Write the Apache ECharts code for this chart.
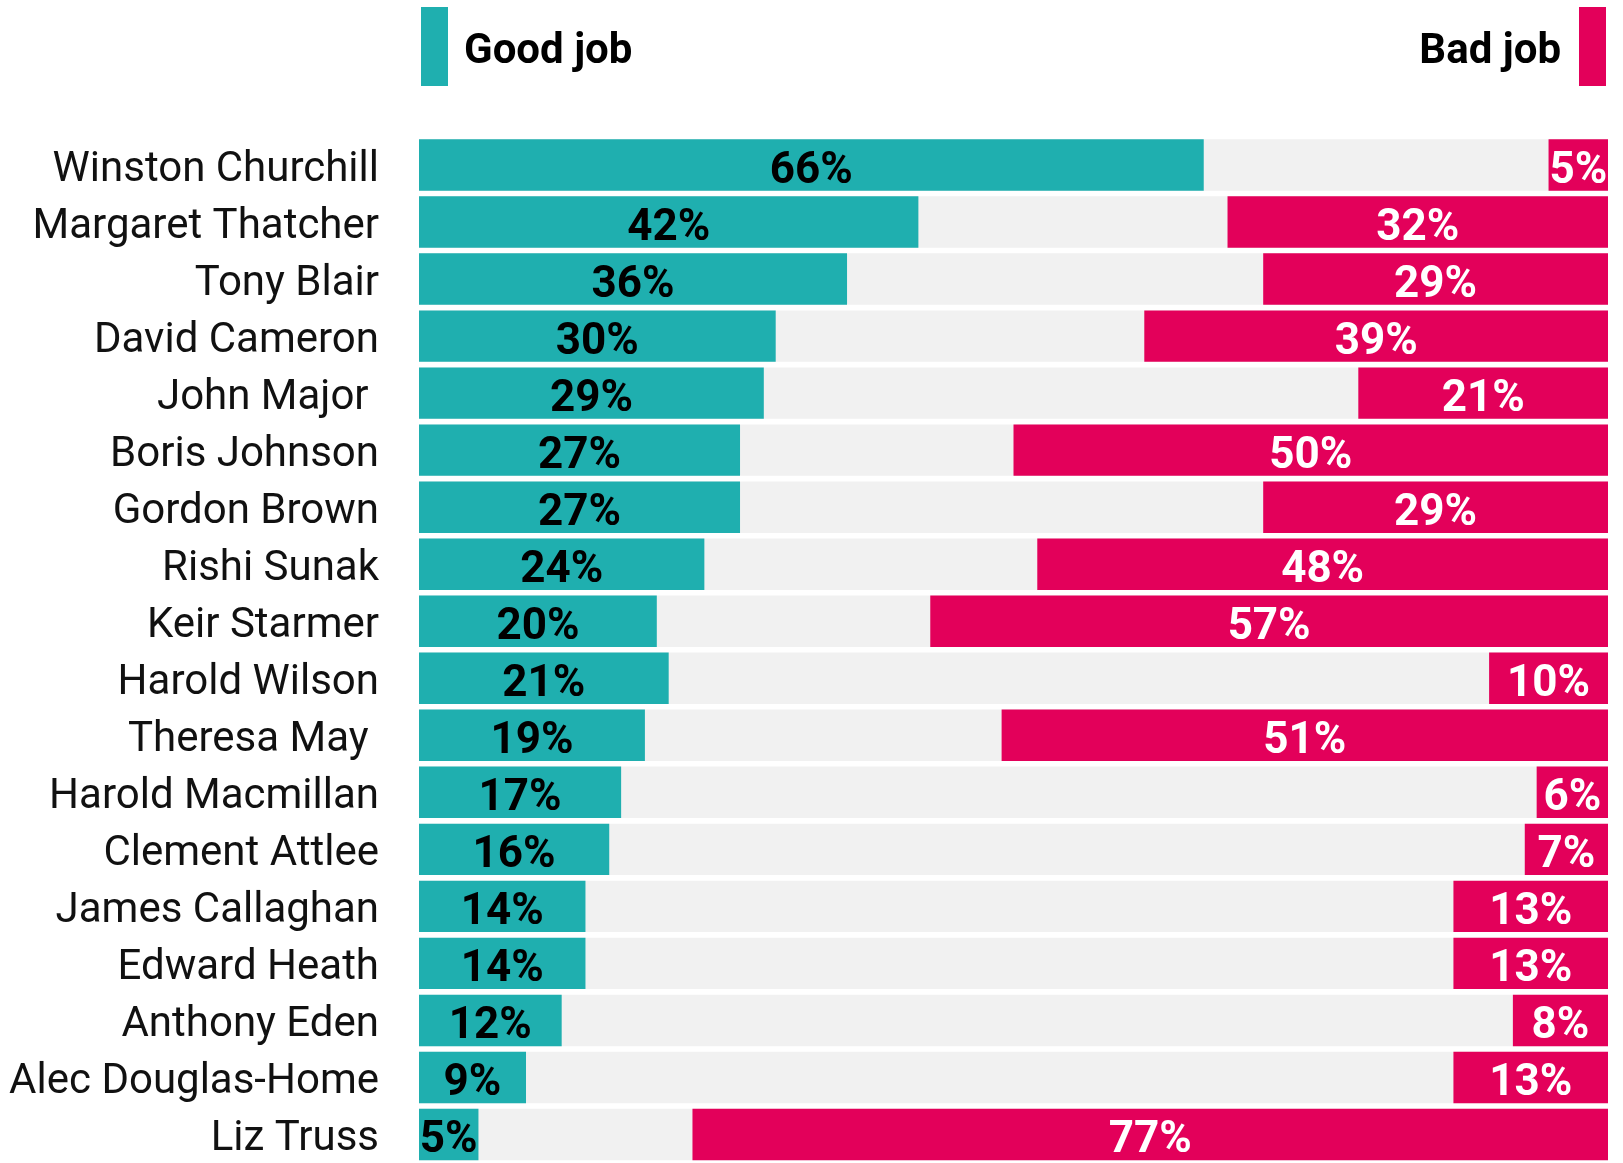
<!DOCTYPE html>
<html>
<head>
<meta charset="utf-8">
<script src="https://cdn.jsdelivr.net/npm/echarts@6/dist/echarts.min.js"></script>
<style>
  html, body { margin: 0; padding: 0; background: #ffffff; }
  #chart { width: 1623px; height: 1163px; }
</style>
</head>
<body>
<div id="chart"></div>
<script>
const names = ['Winston Churchill', 'Margaret Thatcher', 'Tony Blair', 'David Cameron', 'John Major ', 'Boris Johnson', 'Gordon Brown', 'Rishi Sunak', 'Keir Starmer', 'Harold Wilson', 'Theresa May ', 'Harold Macmillan', 'Clement Attlee', 'James Callaghan', 'Edward Heath', 'Anthony Eden', 'Alec Douglas-Home', 'Liz Truss'];
const goodJob = [66, 42, 36, 30, 29, 27, 27, 24, 20, 21, 19, 17, 16, 14, 14, 12, 9, 5];
const badJob = [5, 32, 29, 39, 21, 50, 29, 48, 57, 10, 51, 6, 7, 13, 13, 8, 13, 77];
const seriesNames = ['Good job', 'Bad job'];

const TEAL = '#1FAFAF';
const RED = '#E3005A';
const GREY = '#F1F1F1';
const FONT = 'Roboto';

const chart = echarts.init(document.getElementById('chart'), null, { renderer: 'canvas' });
chart.setOption({
  animation: false,
  backgroundColor: '#ffffff',
  textStyle: { fontFamily: FONT },
  graphic: [
    { type: 'rect', shape: { x: 421, y: 7, width: 27, height: 79 }, style: { fill: TEAL } },
    { type: 'text', x: 464, y: 52.5, style: { text: seriesNames[0], fontSize: 42, fontWeight: 'bold', fontFamily: FONT, fill: '#000', align: 'left', verticalAlign: 'middle' } },
    { type: 'rect', shape: { x: 1579, y: 7, width: 27, height: 79 }, style: { fill: RED } },
    { type: 'text', x: 1561, y: 52.5, style: { text: seriesNames[1], fontSize: 42, fontWeight: 'bold', fontFamily: FONT, fill: '#000', align: 'right', verticalAlign: 'middle' } }
  ],
  grid: { left: 419, width: 1189, top: 136.5, height: 1032.2, containLabel: false },
  xAxis: [
    { type: 'value', min: 0, max: 100, show: false },
    { type: 'value', min: 0, max: 100, inverse: true, show: false }
  ],
  yAxis: {
    type: 'category', data: names, inverse: true,
    axisLine: { show: false }, axisTick: { show: false }, splitLine: { show: false },
    axisLabel: { fontSize: 42, color: '#111', fontFamily: FONT, margin: 40, verticalAlign: 'top', lineHeight: 11 }
  },
  series: [
    {
      name: seriesNames[0], type: 'bar', xAxisIndex: 0, data: goodJob,
      barCategoryGap: '9.8%', barGap: '-100%',
      showBackground: true, backgroundStyle: { color: GREY },
      itemStyle: { color: TEAL },
      label: { show: true, position: 'inside', offset: [0, 7], formatter: '{c}%', fontSize: 44, fontWeight: 'bold', color: '#000', fontFamily: FONT }
    },
    {
      name: seriesNames[1], type: 'bar', xAxisIndex: 1, data: badJob,
      barCategoryGap: '9.8%', barGap: '-100%',
      itemStyle: { color: RED },
      label: { show: true, position: 'inside', offset: [0, 7], formatter: '{c}%', fontSize: 44, fontWeight: 'bold', color: '#fff', fontFamily: FONT }
    }
  ]
});
</script>
</body>
</html>
